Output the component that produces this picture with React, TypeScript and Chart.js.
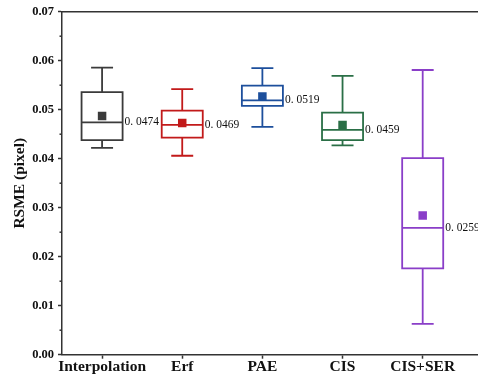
import { useEffect, useRef } from "react";
import { Chart, registerables } from "chart.js";

Chart.register(...registerables);

const categories = ["Interpolation", "Erf", "PAE", "CIS", "CIS+SER"];
const whiskerMin = [0.0422, 0.0406, 0.0465, 0.0427, 0.0063];
const q1 = [0.0438, 0.0443, 0.0508, 0.0438, 0.0176];
const medians = [0.0474, 0.0469, 0.0519, 0.0459, 0.0259];
const q3 = [0.0536, 0.0498, 0.0549, 0.0494, 0.0401];
const whiskerMax = [0.0586, 0.0542, 0.0585, 0.0569, 0.0581];
const means = [0.0487, 0.0473, 0.0527, 0.0469, 0.0284];
const medianLabels = ["0. 0474", "0. 0469", "0. 0519", "0. 0459", "0. 0259"];
const yTicks = [0, 0.01, 0.02, 0.03, 0.04, 0.05, 0.06, 0.07];
const yMinorTicks = [0.005, 0.015, 0.025, 0.035, 0.045, 0.055, 0.065];

const colors = ["#3b3b3b", "#c21a1a", "#1d4f9c", "#2a6f46", "#8a3ec8"];
const AXIS = "#333333";
const SERIF = "'Liberation Serif', 'Times New Roman', serif";
const BOX_HALF = 0.256;
const CAP_HALF = 0.137;

const boxPlugin = {
  id: "boxes",
  beforeDatasetsDraw(chart: any) {
    const { ctx, scales, chartArea } = chart;
    const x = scales.x;
    const y = scales.y;
    ctx.save();
    // top frame line
    ctx.strokeStyle = AXIS;
    ctx.lineWidth = 1.5;
    ctx.beginPath();
    ctx.moveTo(chartArea.left, chartArea.top);
    ctx.lineTo(chartArea.right, chartArea.top);
    ctx.stroke();
    // minor ticks on y
    yMinorTicks.forEach((v) => {
      const py = y.getPixelForValue(v);
      ctx.beginPath();
      ctx.moveTo(chartArea.left - 2.5, py);
      ctx.lineTo(chartArea.left, py);
      ctx.stroke();
    });
    categories.forEach((_, i) => {
      const cx = x.getPixelForValue(i);
      const hw = x.getPixelForValue(i + BOX_HALF) - cx;
      const cw = x.getPixelForValue(i + CAP_HALF) - cx;
      const pMin = y.getPixelForValue(whiskerMin[i]);
      const pQ1 = y.getPixelForValue(q1[i]);
      const pMed = y.getPixelForValue(medians[i]);
      const pQ3 = y.getPixelForValue(q3[i]);
      const pMax = y.getPixelForValue(whiskerMax[i]);
      ctx.strokeStyle = colors[i];
      ctx.lineWidth = 1.8;
      ctx.beginPath();
      ctx.rect(cx - hw, pQ3, 2 * hw, pQ1 - pQ3);
      ctx.moveTo(cx - hw, pMed);
      ctx.lineTo(cx + hw, pMed);
      ctx.moveTo(cx, pQ3);
      ctx.lineTo(cx, pMax);
      ctx.moveTo(cx - cw, pMax);
      ctx.lineTo(cx + cw, pMax);
      ctx.moveTo(cx, pQ1);
      ctx.lineTo(cx, pMin);
      ctx.moveTo(cx - cw, pMin);
      ctx.lineTo(cx + cw, pMin);
      ctx.stroke();
    });
    ctx.restore();
  },
  afterDatasetsDraw(chart: any) {
    const { ctx, scales } = chart;
    const x = scales.x;
    const y = scales.y;
    ctx.save();
    ctx.fillStyle = "#111111";
    ctx.font = `11.5px ${SERIF}`;
    ctx.textAlign = "left";
    ctx.textBaseline = "middle";
    categories.forEach((_, i) => {
      const px = x.getPixelForValue(i + BOX_HALF) + 2;
      const py = y.getPixelForValue(medians[i]);
      ctx.fillText(medianLabels[i], px, py);
    });
    ctx.restore();
  },
};

export default function App() {
  const ref = useRef<HTMLCanvasElement | null>(null);
  useEffect(() => {
    if (!ref.current) return;
    const chart = new Chart(ref.current, {
      type: "scatter",
      data: {
        datasets: [
          {
            label: "Mean",
            data: means.map((m, i) => ({ x: i, y: m })),
            pointStyle: "rect",
            pointRadius: 6,
            pointBorderWidth: 0,
            pointBackgroundColor: colors,
            pointBorderColor: colors,
          },
        ],
      },
      plugins: [boxPlugin],
      options: {
        animation: false,
        responsive: false,
        events: [],
        layout: { autoPadding: false, padding: { top: 11.7, left: 0, right: 0, bottom: 0 } },
        plugins: { legend: { display: false }, tooltip: { enabled: false } },
        scales: {
          x: {
            type: "linear",
            min: -0.5,
            max: 4.69,
            afterBuildTicks: (s: any) => {
              s.ticks = categories.map((_, i) => ({ value: i }));
            },
            afterFit: (s: any) => {
              s.height = 28.3;
            },
            ticks: {
              autoSkip: false,
              maxRotation: 0,
              padding: -1,
              color: "#111111",
              font: { family: SERIF, weight: "bold", size: 15.5 },
              callback: (v: any) => categories[Math.round(Number(v))] ?? "",
            },
            grid: { drawOnChartArea: false, drawTicks: true, tickLength: 4, tickColor: AXIS, tickWidth: 1.5 },
            border: { display: true, color: AXIS, width: 1.5 },
          },
          y: {
            min: 0,
            max: 0.07,
            afterBuildTicks: (s: any) => {
              s.ticks = yTicks.map((v) => ({ value: v }));
            },
            afterFit: (s: any) => {
              s.width = 62;
            },
            ticks: {
              padding: 4,
              color: "#111111",
              font: { family: SERIF, weight: "bold", size: 12.5 },
              callback: (v: any) => Number(v).toFixed(2),
            },
            grid: { drawOnChartArea: false, drawTicks: true, tickLength: 4, tickColor: AXIS, tickWidth: 1.5 },
            border: { display: true, color: AXIS, width: 1.5 },
            title: {
              display: true,
              text: "RSME (pixel)",
              color: "#111111",
              font: { family: SERIF, weight: "bold", size: 15.5 },
              padding: { top: 10.7, bottom: 0 },
            },
          },
        },
      },
    } as any);
    return () => chart.destroy();
  }, []);
  return (
    <div style={{ position: "fixed", left: 0, top: 0, width: 478, height: 383, background: "#ffffff" }}>
      <canvas ref={ref} width={478} height={383} style={{ display: "block", width: 478, height: 383 }} />
    </div>
  );
}
